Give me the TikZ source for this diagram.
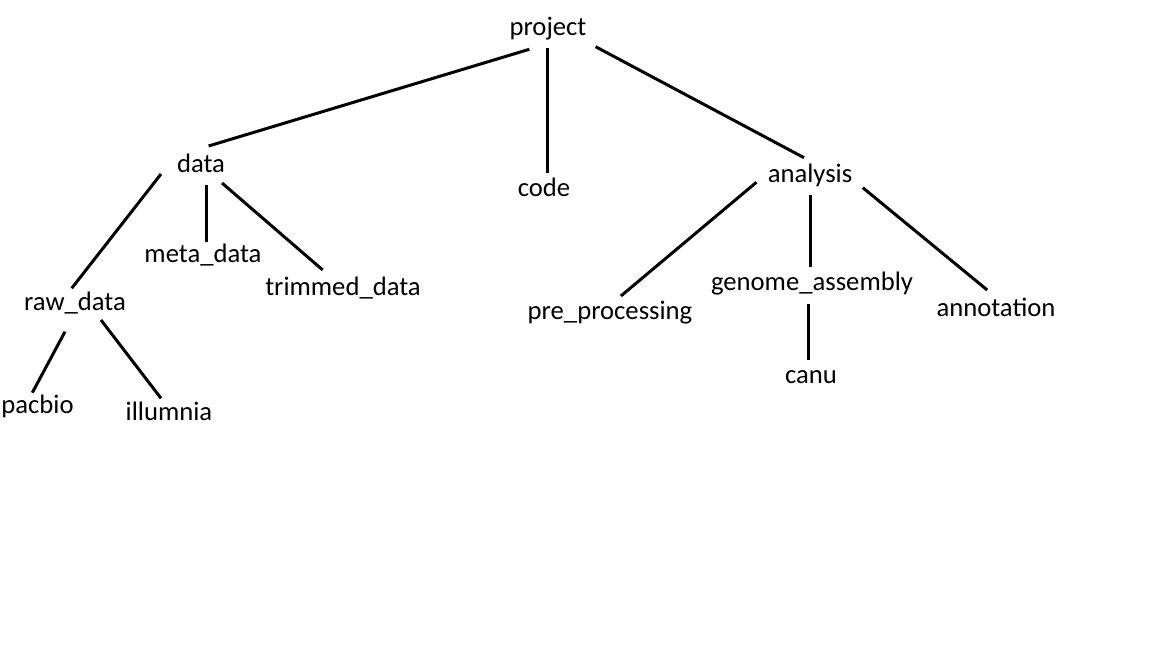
\documentclass[tikz,border=0pt]{standalone}
\usepackage{fontspec}
\setmainfont{Carlito}
\begin{document}
\begin{tikzpicture}[x=1pt,y=-1pt,
  lbl/.style={anchor=base,inner sep=0pt,font=\fontsize{26.67}{32}\selectfont},
  conn/.style={line width=3pt}]
\useasboundingbox[fill=white] (0,0) rectangle (1152,648);
\node[lbl] (project) at (548,35.5) {project};
\node[lbl] (data) at (201,172.5) {data};
\node[lbl] (code) at (544,196.5) {code};
\node[lbl] (analysis) at (810,182.5) {analysis};
\node[lbl] (meta) at (203,262.5) {meta\_data};
\node[lbl] (trimmed) at (343,295) {trimmed\_data};
\node[lbl] (raw) at (75,310.5) {raw\_data};
\node[lbl] (pacbio) at (37.5,413.2) {pacbio};
\node[lbl] (illumnia) at (169,420.8) {illumnia};
\node[lbl] (pre) at (610,319.5) {pre\_processing};
\node[lbl] (genome) at (812,290.8) {genome\_assembly};
\node[lbl] (annotation) at (996,316.5) {annotation};
\node[lbl] (canu) at (811,383.2) {canu};
\draw[conn] ([shift={(-18.7,13.8)}]project.base) -- ([shift={(7.6,-26.5)}]data.base);
\draw[conn] ([shift={(-0.7,12.2)}]project.base) -- ([shift={(3.3,-23.5)}]code.base);
\draw[conn] ([shift={(47.6,11.2)}]project.base) -- ([shift={(-6,-24.8)}]analysis.base);
\draw[conn] ([shift={(-40,1.5)}]data.base) -- ([shift={(-3.3,-22.2)}]raw.base);
\draw[conn] ([shift={(5.7,12.5)}]data.base) -- ([shift={(3.7,-20.8)}]meta.base);
\draw[conn] ([shift={(21,10.5)}]data.base) -- ([shift={(-20.3,-25)}]trimmed.base);
\draw[conn] ([shift={(-10,21.2)}]raw.base) -- ([shift={(-5.2,-20.5)}]pacbio.base);
\draw[conn] ([shift={(26,9.5)}]raw.base) -- ([shift={(-8,-22.5)}]illumnia.base);
\draw[conn] ([shift={(-53.6,-0.2)}]analysis.base) -- ([shift={(10.9,-23.5)}]pre.base);
\draw[conn] ([shift={(0.5,12.5)}]analysis.base) -- ([shift={(-1.5,-24.1)}]genome.base);
\draw[conn] ([shift={(52.8,5.2)}]analysis.base) -- ([shift={(-8.8,-26.5)}]annotation.base);
\draw[conn] ([shift={(-4,13.2)}]genome.base) -- ([shift={(-3,-23.2)}]canu.base);
\end{tikzpicture}
\end{document}
